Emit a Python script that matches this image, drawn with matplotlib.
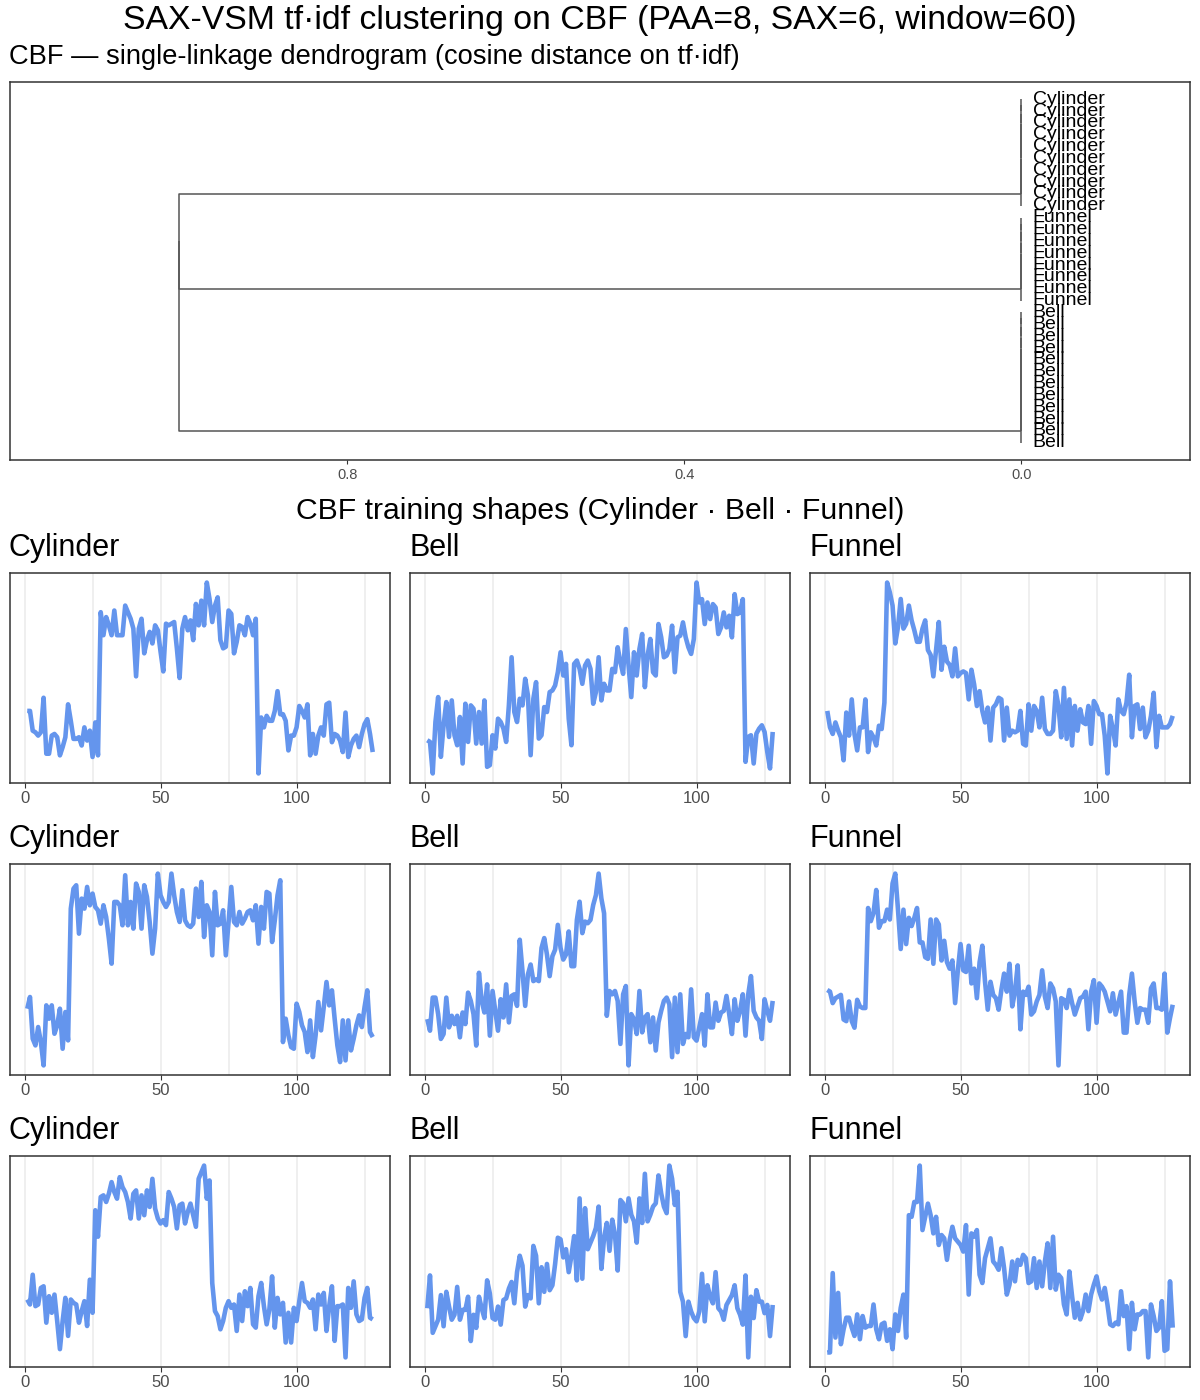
#!/usr/bin/env python3
# -*- coding: utf-8 -*-

import numpy as np
import matplotlib
matplotlib.use("Agg")
import matplotlib.pyplot as plt

plt.rcParams['font.family'] = ['Liberation Sans', 'DejaVu Sans']

FIG_W, FIG_H = 1200, 1400
LINE_BLUE = "#6495ED"
FRAME = "#333333"
TICK_TXT = "#4d4d4d"

# Dendrogram: leaf order top to bottom, merge heights (cosine distance)
LEAF_LABELS = ["Cylinder"] * 10 + ["Funnel"] * 8 + ["Bell"] * 12
CLUSTER_SIZES = [10, 8, 12]
WITHIN_HEIGHT = 0.0
BETWEEN_HEIGHT = 1.0
DIST_TICKS = [0.8, 0.4, 0.0]

# Training series (3 per class)
CYL_1 = [1.6, 1.6, 0.4, 0.3, 0.1, 0.3, 2.4, -1.0, -1.0, 0.1, 0.2, 0.0, -1.1, -0.6, 0.0, 2.0,
         1.0, -0.1, -0.1, 0.0, -0.5, 0.6, -0.2, 0.4, -1.2, 0.9, -1.1, 7.6, 6.2, 7.3, 6.8, 6.2,
         7.7, 6.2, 6.2, 6.2, 8.0, 7.6, 7.2, 6.6, 3.7, 6.6, 7.2, 5.1, 5.9, 6.4, 5.7, 6.8,
         6.5, 5.2, 4.0, 6.9, 6.8, 6.9, 7.0, 5.4, 3.6, 6.6, 7.3, 6.5, 7.1, 5.9, 8.1, 6.8,
         8.3, 6.8, 9.4, 8.4, 7.0, 8.0, 8.5, 5.9, 5.4, 5.5, 7.7, 7.5, 5.1, 5.8, 6.8, 6.7,
         6.2, 7.3, 6.9, 6.2, 7.2, -2.2, 1.2, 0.6, 1.3, 1.0, 1.0, 1.6, 2.8, 1.4, 1.4, 1.0,
         -0.8, 0.1, 0.1, 0.6, 1.9, 1.6, 1.2, 2.0, -1.1, 0.2, -1.0, 0.1, 0.6, 0.1, 2.0, 2.1,
         -0.3, 0.2, 0.1, -0.2, -0.9, 1.5, -1.2, -0.5, -0.1, 0.1, -0.6, 0.2, 0.8, 1.1, 0.2, -0.9]
BELL_1 = [-0.1, -0.2, -2.1, 1.0, 2.5, -1.1, 0.8, 2.2, 0.1, 2.3, 0.2, -0.4, 1.3, -1.5, 2.1, -0.2,
          2.0, 1.8, -0.3, 1.6, -0.3, 2.3, -1.7, -1.6, 0.2, -0.6, 1.2, 1.0, 0.6, -0.2, 2.0, 4.9,
          1.6, 1.0, 2.4, 2.0, 3.6, 2.6, -1.0, 2.4, 3.4, 0.0, 0.2, 1.9, 1.6, 2.8, 2.9, 3.2,
          4.0, 5.2, 3.8, 4.5, 1.2, -0.4, 4.5, 4.7, 4.2, 3.3, 4.4, 4.7, 4.2, 2.1, 2.8, 4.9,
          2.3, 3.3, 2.9, 2.9, 4.2, 4.0, 5.5, 4.6, 3.9, 6.6, 4.4, 2.5, 5.2, 3.8, 5.4, 6.3,
          3.1, 5.0, 6.0, 4.0, 3.8, 6.9, 6.1, 4.9, 5.0, 5.4, 6.8, 4.0, 6.1, 6.2, 7.0, 6.1,
          5.5, 5.1, 6.0, 9.4, 8.2, 8.4, 6.9, 8.2, 7.2, 8.1, 7.9, 6.3, 6.7, 7.6, 6.7, 7.4,
          6.1, 8.7, 7.5, 7.6, 8.4, -1.4, 0.1, 0.2, -1.5, 0.3, 0.6, 0.8, 0.4, -0.8, -1.8, 0.4]
FUN_1 = [1.6, 0.6, 0.2, 0.9, 0.4, 0.0, -1.4, 1.5, 0.1, 2.3, 0.2, -0.8, 0.6, 0.6, 2.3, -0.9,
         0.3, 0.0, -0.5, 0.7, 0.5, 2.1, 9.4, 8.8, 8.0, 5.7, 6.7, 8.4, 6.6, 6.9, 8.0, 7.1,
         6.5, 5.8, 5.8, 6.6, 7.1, 5.3, 5.0, 3.7, 5.3, 7.0, 4.1, 5.5, 4.6, 4.4, 3.7, 5.4,
         3.7, 3.9, 4.0, 3.9, 2.3, 4.1, 3.2, 1.9, 2.8, 1.6, 0.9, 1.8, -0.2, 1.8, 2.0, 2.4,
         2.3, -0.2, 1.8, 0.1, 0.4, 0.3, 0.4, 1.6, -0.4, -0.5, 2.0, 0.4, 1.9, 1.6, 0.6, 2.4,
         0.5, 0.2, 0.2, 0.4, 2.8, 1.9, 0.0, 3.0, -0.1, 2.3, -0.5, 1.9, 0.4, 1.7, 0.9, 0.8,
         1.9, -0.4, 2.2, 1.9, 1.4, 1.4, 0.1, -2.2, 1.3, 0.5, -0.5, 2.3, 1.6, 1.4, 2.1, 3.8,
         0.0, 1.9, 2.0, 0.5, 1.8, 0.0, 0.4, 1.3, 2.7, -0.6, 1.3, 0.6, 0.6, 0.6, 0.8, 1.3]
CYL_2 = [1.2, 1.9, -0.6, -1.0, 0.1, -0.8, -2.2, 1.4, 0.6, 1.4, -0.3, 0.2, 1.2, -1.2, 1.0, -0.7,
         7.2, 8.4, 8.6, 5.7, 7.8, 7.2, 8.5, 7.4, 8.1, 7.3, 7.1, 6.3, 7.4, 6.7, 5.4, 3.9,
         7.6, 7.6, 7.4, 6.2, 9.2, 6.2, 7.6, 6.0, 8.7, 8.2, 6.0, 8.6, 7.9, 6.4, 4.5, 6.0,
         9.3, 8.0, 7.6, 7.3, 7.6, 9.3, 8.0, 7.0, 6.4, 8.3, 6.5, 6.2, 6.1, 6.3, 8.4, 6.7,
         8.8, 5.5, 7.4, 7.0, 4.4, 8.2, 6.2, 6.3, 7.1, 4.4, 6.4, 8.5, 6.4, 6.2, 7.0, 6.3,
         6.6, 7.0, 7.1, 6.5, 7.4, 5.1, 7.3, 6.0, 8.2, 8.1, 5.2, 6.5, 8.0, 8.9, -0.8, 0.6,
         -0.4, -1.1, -1.2, 1.5, 1.0, 0.2, -0.2, -1.4, 0.5, -1.7, -0.4, 1.6, -0.1, 1.3, 2.8, 1.4,
         2.3, 0.6, -1.0, -2.0, 0.5, -1.9, 0.5, -1.3, -0.6, 0.2, 0.8, 0.1, 1.3, 2.3, -0.2, -0.5]
BELL_2 = [0.5, -0.2, 1.8, 1.8, 0.8, -0.7, -0.4, 1.8, 0.0, 0.7, 0.2, 0.7, -0.6, 0.9, 0.2, 2.1,
          1.6, 0.8, -1.1, 3.3, 1.6, 0.9, 2.6, -0.5, 2.2, 1.0, -0.2, 1.7, 0.6, 2.6, 0.3, 1.9,
          2.0, 1.3, 5.3, 3.4, 1.3, 3.2, 3.8, 2.8, 2.9, 2.8, 4.8, 5.4, 4.4, 3.1, 4.3, 4.7,
          6.2, 4.8, 4.1, 4.4, 5.8, 3.7, 3.7, 6.5, 7.6, 5.7, 6.4, 6.3, 6.5, 7.4, 8.0, 9.3,
          7.8, 6.9, 0.7, 2.2, 2.0, 2.2, 1.6, -1.0, 2.0, 2.5, -2.3, 0.8, 0.5, -0.4, 2.2, -0.3,
          0.6, 0.8, -0.9, 0.6, -1.4, 0.3, 1.0, 1.6, 1.8, 1.4, -1.8, 1.8, -1.5, 2.0, -1.0, -0.4,
          -0.6, 2.3, -0.6, -0.8, 0.0, 0.8, -1.1, 2.0, 0.0, 0.0, 1.5, 0.4, 0.9, 1.0, 1.9, 0.8,
          -0.4, 1.7, 0.4, 1.0, 2.0, -0.5, 2.0, 3.1, 1.0, 0.6, 0.4, -0.7, 1.7, 1.0, 0.4, 1.6]
FUN_2 = [2.3, 2.2, 1.5, 1.8, 1.9, 2.0, 0.5, 0.4, 1.6, 0.4, 0.0, 1.7, 1.3, 1.2, 1.2, 7.3,
         6.5, 7.0, 8.4, 6.1, 6.5, 6.5, 7.2, 6.6, 8.8, 9.4, 7.2, 4.8, 7.2, 5.1, 6.7, 6.2,
         6.7, 7.3, 5.2, 5.2, 4.3, 4.2, 6.6, 3.9, 6.6, 6.3, 4.1, 5.3, 4.0, 3.6, 4.1, 1.5,
         3.5, 5.1, 3.5, 3.4, 5.0, 2.7, 3.6, 1.8, 4.0, 5.0, 2.8, 1.1, 2.8, 2.0, 1.8, 1.1,
         2.3, 3.3, 2.2, 3.9, 1.3, 2.2, 3.8, -0.1, 2.2, 2.0, 2.5, 0.8, 1.0, 1.6, 2.0, 3.5,
         1.9, 1.2, 2.7, 2.4, 1.6, -2.3, 1.8, 1.7, 1.2, 2.3, 1.5, 0.8, 1.3, 1.8, 1.9, 2.2,
         -0.1, 2.2, 2.9, 0.3, 2.7, 2.5, 2.2, 1.6, 1.0, 2.1, 0.8, 1.5, 2.2, -0.3, -0.3, 2.0,
         3.3, 1.6, 0.3, 1.2, 1.1, 1.1, 0.3, 2.4, 2.7, 1.2, 1.2, 1.1, 3.3, -0.3, 0.6, 1.4]
CYL_3 = [1.3, 1.0, 2.8, 0.9, 1.0, 2.0, 2.1, -0.1, 1.5, 0.5, 1.6, 0.0, -1.7, 0.0, 1.4, -0.9,
         1.3, 1.1, 1.0, -0.1, 0.6, 1.2, -0.3, 2.5, 0.5, 6.7, 5.1, 7.5, 7.6, 7.2, 7.7, 8.4,
         7.8, 7.4, 8.7, 8.1, 7.8, 7.2, 6.2, 7.7, 7.9, 6.2, 7.6, 6.4, 7.9, 6.9, 8.6, 6.8,
         6.2, 5.9, 6.1, 5.8, 7.8, 7.4, 6.9, 5.6, 7.0, 7.1, 5.9, 6.6, 7.1, 6.4, 5.7, 8.6,
         9.0, 9.4, 7.4, 8.5, 2.3, 0.6, 0.3, -0.5, 0.0, 0.8, 1.2, 0.8, 1.0, -0.6, 1.6, 0.0,
         1.8, 0.9, 2.0, -0.2, -0.4, 1.5, 2.3, 0.9, -0.2, 0.7, 2.7, -0.4, 1.4, 0.4, 1.1, -1.3,
         0.5, -1.3, 0.8, 0.0, 1.2, 2.3, 1.2, 1.1, 0.8, 1.3, -0.5, 1.6, 1.0, 1.7, -0.6, 0.9,
         2.1, -1.2, 0.9, 0.9, 1.0, -2.2, 2.0, 0.8, 2.4, 0.4, 0.0, 0.1, 1.4, 2.0, 0.2, 0.1]
BELL_3 = [0.8, 2.8, -0.7, -0.3, 0.1, 1.6, -0.3, 1.8, 0.9, 0.1, 0.4, 2.1, 0.1, 0.7, 0.7, 1.5,
          -1.2, 0.4, -0.4, 1.5, 0.8, 0.2, 2.5, 1.7, 0.2, 0.1, 0.9, -0.2, 1.3, 1.4, 2.0, 2.4,
          1.1, 3.0, 4.0, 3.4, 0.9, 1.6, 1.4, 4.6, 4.0, 1.1, 3.3, 1.8, 3.5, 1.9, 2.2, 3.5,
          5.1, 5.0, 3.9, 4.4, 3.0, 4.0, 5.2, 2.5, 7.5, 2.6, 6.9, 4.4, 4.8, 5.2, 5.7, 7.0,
          3.2, 5.1, 6.0, 4.3, 6.2, 5.3, 3.1, 7.4, 7.2, 6.1, 7.5, 6.5, 6.1, 4.8, 7.5, 6.0,
          9.0, 6.1, 6.5, 7.0, 7.2, 8.9, 7.8, 7.0, 6.6, 9.5, 8.7, 7.1, 7.9, 1.8, 1.2, -0.9,
          1.2, 0.6, 0.2, 0.0, 0.6, 2.9, 0.0, 2.2, 1.5, 1.1, 3.0, 0.8, 0.6, 0.1, 1.0, 1.3,
          1.6, 2.2, 0.8, 0.4, -0.2, 2.8, -2.2, 1.5, 0.2, 1.9, 1.2, 1.2, 0.5, 1.0, -0.9, 1.0]
FUN_3 = [-1.9, -1.9, 2.9, -1.0, 1.7, -1.4, -0.5, 0.2, 0.2, -0.4, -0.9, 0.4, -1.1, 0.3, -0.4, -0.3,
         -0.3, 1.0, -0.5, -1.1, -0.2, -0.1, -1.2, -0.5, -1.7, 0.4, -0.6, 0.8, 1.6, -1.0, 6.4, 6.3,
         7.2, 7.2, 9.4, 5.5, 6.3, 7.1, 6.4, 5.3, 6.3, 4.6, 5.2, 5.0, 3.7, 4.9, 5.7, 5.0,
         4.8, 4.6, 4.2, 5.8, 1.6, 5.3, 5.1, 5.5, 2.8, 2.3, 3.8, 4.4, 5.0, 3.6, 3.4, 3.1,
         4.4, 3.2, 1.6, 2.2, 3.6, 2.4, 3.7, 3.4, 4.0, 3.8, 2.3, 2.4, 3.8, 2.0, 3.6, 2.1,
         3.6, 4.7, 2.0, 5.1, 1.9, 2.8, 2.6, 1.0, 0.4, 3.0, 1.5, 0.2, 1.1, 0.1, 0.6, 1.6,
         0.6, 1.6, 2.2, 2.7, 1.8, 1.3, 2.0, 1.0, -0.2, -0.3, -0.1, -0.2, 1.8, 0.3, 0.9, -1.7,
         1.1, -0.5, 0.4, 0.4, 0.6, 0.6, -2.2, 1.0, 0.3, -0.6, -0.4, 1.2, -1.8, -1.7, 2.4, -0.4]

PANEL_TITLES = [["Cylinder", "Bell", "Funnel"]] * 3
PANEL_SERIES = [[CYL_1, BELL_1, FUN_1],
                [CYL_2, BELL_2, FUN_2],
                [CYL_3, BELL_3, FUN_3]]
TIME_TICKS = [0, 50, 100]
TIME_MINOR = [25, 75, 125]


def px_axes(fig, left, top, right, bottom):
    """Axes placed by pixel edges (origin top-left)."""
    return fig.add_axes([left / FIG_W, 1 - bottom / FIG_H,
                         (right - left) / FIG_W, (bottom - top) / FIG_H])


def px_text(fig, x, y, s, **kw):
    fig.text(x / FIG_W, 1 - y / FIG_H, s, **kw)


def style_frame(ax):
    for sp in ax.spines.values():
        sp.set_color(FRAME)
        sp.set_linewidth(1.1)


def chain_merge(ax, nodes, height):
    """Merge (y, h) nodes one after another at a given height, elbow style."""
    y, h = nodes[0]
    for y2, h2 in nodes[1:]:
        ax.plot([h, height, height, h2], [y, y, y2, y2],
                color="#555555", lw=1.1, solid_capstyle="butt", zorder=2)
        y = (y + y2) / 2.0
        h = height
    return y, h


def draw_dendrogram(ax):
    n = len(LEAF_LABELS)
    leaf_y = np.arange(1, n + 1)
    groups = []
    start = 0
    for size in CLUSTER_SIZES:
        nodes = [(leaf_y[i], 0.0) for i in range(start, start + size)]
        groups.append(chain_merge(ax, nodes, WITHIN_HEIGHT))
        start += size
    chain_merge(ax, groups, BETWEEN_HEIGHT)

    # leaf labels overlap in the original too (30 leaves in a short panel)
    for y, lab in zip(leaf_y, LEAF_LABELS):
        ax.annotate(lab, xy=(0.0, y), xytext=(8, 0), textcoords="offset points",
                    ha="left", va="center", fontsize=14, color="black")

    ax.set_xlim(1.2, -0.2)
    pad = 0.05 * (n - 1)
    ax.set_ylim(n + pad, 1 - pad)
    ax.set_xticks(DIST_TICKS)
    ax.set_xticklabels(["%.1f" % t for t in DIST_TICKS])
    ax.set_yticks([])
    ax.tick_params(axis="x", length=3, width=0.8, color=FRAME,
                   labelsize=10.5, labelcolor=TICK_TXT, pad=3)
    style_frame(ax)


def draw_series(ax, values):
    x = np.arange(1, len(values) + 1)
    ax.plot(x, values, color=LINE_BLUE, lw=3.3,
            solid_joinstyle="round", solid_capstyle="butt", zorder=3)
    ax.set_xticks(TIME_TICKS)
    ax.set_xticks(TIME_MINOR, minor=True)
    ax.grid(axis="x", which="both", color="#ebebeb", lw=1.1)
    ax.set_axisbelow(True)
    ax.set_yticks([])
    ax.tick_params(axis="x", which="major", length=3.5, width=0.8, color=FRAME,
                   labelsize=12, labelcolor=TICK_TXT, pad=2)
    ax.tick_params(axis="x", which="minor", length=0)
    style_frame(ax)


def main():
    fig = plt.figure(figsize=(FIG_W / 100, FIG_H / 100), dpi=100)

    px_text(fig, 600, 20, "SAX-VSM tf·idf clustering on CBF (PAA=8, SAX=6, window=60)",
            ha="center", va="center", fontsize=24.3)
    px_text(fig, 9, 57, "CBF — single-linkage dendrogram (cosine distance on tf·idf)",
            ha="left", va="center", fontsize=19.6)

    dend_ax = px_axes(fig, 10, 82, 1190, 460)
    draw_dendrogram(dend_ax)

    px_text(fig, 600, 511, "CBF training shapes (Cylinder · Bell · Funnel)",
            ha="center", va="center", fontsize=21.7)

    col_edges = [(10, 390), (410, 790), (810, 1190)]
    row_edges = [(573, 783), (864, 1075), (1156, 1367)]
    for r, (top, bottom) in enumerate(row_edges):
        for c, (left, right) in enumerate(col_edges):
            ax = px_axes(fig, left, top, right, bottom)
            draw_series(ax, PANEL_SERIES[r][c])
            px_text(fig, left - 1, top - 25, PANEL_TITLES[r][c],
                    ha="left", va="center", fontsize=22)

    fig.savefig("out.png", dpi=100)


if __name__ == "__main__":
    main()
